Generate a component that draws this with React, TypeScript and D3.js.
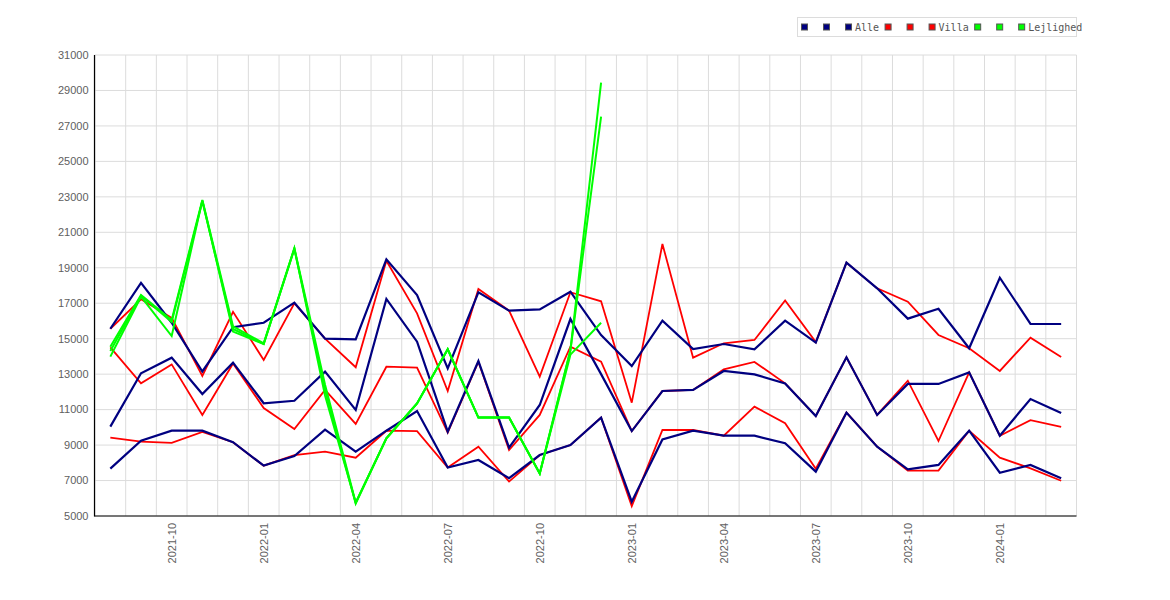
import * as d3 from "d3";

// months 2021-08 .. 2024-03
const months: string[] = [
  "2021-08", "2021-09", "2021-10", "2021-11", "2021-12",
  "2022-01", "2022-02", "2022-03", "2022-04", "2022-05", "2022-06",
  "2022-07", "2022-08", "2022-09", "2022-10", "2022-11", "2022-12",
  "2023-01", "2023-02", "2023-03", "2023-04", "2023-05", "2023-06",
  "2023-07", "2023-08", "2023-09", "2023-10", "2023-11", "2023-12",
  "2024-01", "2024-02", "2024-03",
];

const tickMonths = ["2021-10", "2022-01", "2022-04", "2022-07", "2022-10", "2023-01", "2023-04", "2023-07", "2023-10", "2024-01"];
const yTicks = d3.range(5000, 31001, 2000);

const alleHigh = [15560, 18150, 15900, 13150, 15650, 15900, 17030, 15000, 14960, 19480, 17460, 13330, 17620, 16580, 16650, 17650, 15200, 13460, 16020, 14420, 14700, 14400, 16020, 14780, 19290, 17840, 16130, 16690, 14460, 18440, 15830, 15830];
const alleMid = [10040, 13050, 13930, 11880, 13650, 11360, 11500, 13140, 10980, 17240, 14830, 9760, 13740, 8860, 11260, 16110, 13000, 9790, 12050, 12110, 13180, 12990, 12480, 10640, 13950, 10700, 12450, 12450, 13100, 9530, 11600, 10810];
const alleLow = [7670, 9250, 9810, 9810, 9160, 7840, 8380, 9870, 8630, 9810, 10920, 7730, 8160, 7130, 8440, 9000, 10550, 5810, 9320, 9810, 9530, 9530, 9100, 7500, 10830, 8910, 7630, 7880, 9810, 7440, 7880, 7130];

const villaHigh = [15560, 17220, 16180, 12900, 16520, 13800, 17000, 15000, 13390, 19400, 16430, 12050, 17800, 16580, 12860, 17620, 17110, 11390, 20340, 13930, 14740, 14930, 17150, 14810, 19290, 17840, 17090, 15210, 14460, 13180, 15060, 13970];
const villaMid = [14510, 12480, 13550, 10700, 13600, 11090, 9910, 12110, 10190, 13420, 13370, 9700, 13700, 8720, 10700, 14550, 13700, 9790, 12050, 12110, 13270, 13690, 12480, 10640, 13950, 10700, 12630, 9230, 13100, 9530, 10410, 10020];
const villaLow = [9420, 9190, 9120, 9740, 9160, 7840, 8430, 8630, 8290, 9810, 9790, 7730, 8910, 6940, 8440, 9000, 10550, 5560, 9850, 9850, 9530, 11170, 10230, 7670, 10830, 8910, 7560, 7560, 9810, 8290, 7690, 6990];

// Lejlighed only has data until 2022-12
const lejHigh = [14550, 17470, 16050, 22820, 15700, 14740, 20100, 12400, 5750, 9380, 11350, 14400, 10550, 10550, 7400, 14350, 29440];
const lejMid = [14300, 17420, 15950, 22750, 15550, 14700, 20050, 12100, 5700, 9380, 11350, 14400, 10550, 10550, 7400, 14350, 27520];
const lejLow = [13990, 17370, 15150, 22800, 15400, 14700, 20100, 11800, 5750, 9380, 11350, 14400, 10550, 10550, 7400, 14100, 15900];

const groups = [
  { name: "Alle", color: "#000080", width: 2.2, lines: [alleHigh, alleMid, alleLow] },
  { name: "Villa", color: "#ff0000", width: 1.8, lines: [villaHigh, villaMid, villaLow] },
  { name: "Lejlighed", color: "#00ff00", width: 2, lines: [lejHigh, lejMid, lejLow] },
];
// red under navy, green on top
const drawOrder = [1, 0, 2];

const width = 1170;
const height = 600;
const left = 94.5;
const right = 1076.5;
const top = 55;
const bottom = 516;

export default function App() {
  const x = d3.scaleBand<string>().domain(months).range([left + 0.5, right]);
  const cx = (i: number) => (x(months[i]) ?? 0) + x.bandwidth() / 2;
  const y = d3.scaleLinear().domain([5000, 31000]).range([bottom, top]);
  const line = d3
    .line<number>()
    .x((_, i) => cx(i))
    .y((v) => y(v));

  // legend layout: three markers then the label, per group
  const charW = 6.02;
  let lx = 804.5;
  const legendItems = groups.map((g) => {
    const item = { g, marks: [lx, lx + 22, lx + 44], tx: lx + 50.5 };
    lx = item.tx + g.name.length * charW + 9;
    return item;
  });

  return (
    <svg width={width} height={height} style={{ position: "absolute", left: 0, top: 0, background: "#fff" }}>
      <rect x={0} y={0} width={width} height={height} fill="#fff" />
      {/* grid */}
      {months.map((m, i) => (
        <line key={`vg-${m}`} x1={(x(m) ?? 0) + (i === 0 ? 0 : 0)} x2={x(m) ?? 0} y1={top} y2={bottom} stroke="#dcdcdc" strokeWidth={1} />
      ))}
      <line x1={right} x2={right} y1={top} y2={bottom} stroke="#dcdcdc" strokeWidth={1} />
      {yTicks.map((t) => (
        <line key={`hg-${t}`} x1={left} x2={right} y1={y(t)} y2={y(t)} stroke="#dcdcdc" strokeWidth={1} />
      ))}

      {/* series */}
      {drawOrder.map((gi) => {
        const g = groups[gi];
        return (
          <g key={g.name}>
            {g.lines.map((vals, li) => (
              <path key={li} d={line(vals) ?? ""} fill="none" stroke={g.color} strokeWidth={g.width} strokeLinejoin="miter" />
            ))}
          </g>
        );
      })}

      {/* axes */}
      <line x1={left} x2={left} y1={top} y2={bottom + 0.5} stroke="#000" strokeWidth={1.2} />
      <line x1={left} x2={right} y1={bottom} y2={bottom} stroke="#000" strokeWidth={1.2} />

      {yTicks.map((t) => (
        <text
          key={`yl-${t}`}
          x={88.5}
          y={y(t)}
          dy="0.35em"
          textAnchor="end"
          fontFamily="'Liberation Sans', Arial, sans-serif"
          fontSize={11}
          fill="#606060"
        >
          {t}
        </text>
      ))}
      {tickMonths.map((m) => (
        <text
          key={`xl-${m}`}
          transform={`translate(${cx(months.indexOf(m))},523) rotate(-90)`}
          dy="0.35em"
          textAnchor="end"
          fontFamily="'Liberation Sans', Arial, sans-serif"
          fontSize={11}
          fill="#606060"
        >
          {m}
        </text>
      ))}

      {/* legend */}
      <rect x={797.5} y={17.5} width={279} height={19} fill="#fff" stroke="#dcdcdc" strokeWidth={1} />
      {legendItems.map(({ g, marks, tx }) => (
        <g key={`lg-${g.name}`}>
          {marks.map((mx, k) => (
            <rect key={k} x={mx - 3} y={24} width={6} height={6} fill={g.color} stroke="#555" strokeWidth={1} />
          ))}
          <text x={tx} y={27} dy="0.35em" fontFamily="'DejaVu Sans Mono', monospace" fontSize={10} fill="#555">
            {g.name}
          </text>
        </g>
      ))}
    </svg>
  );
}
